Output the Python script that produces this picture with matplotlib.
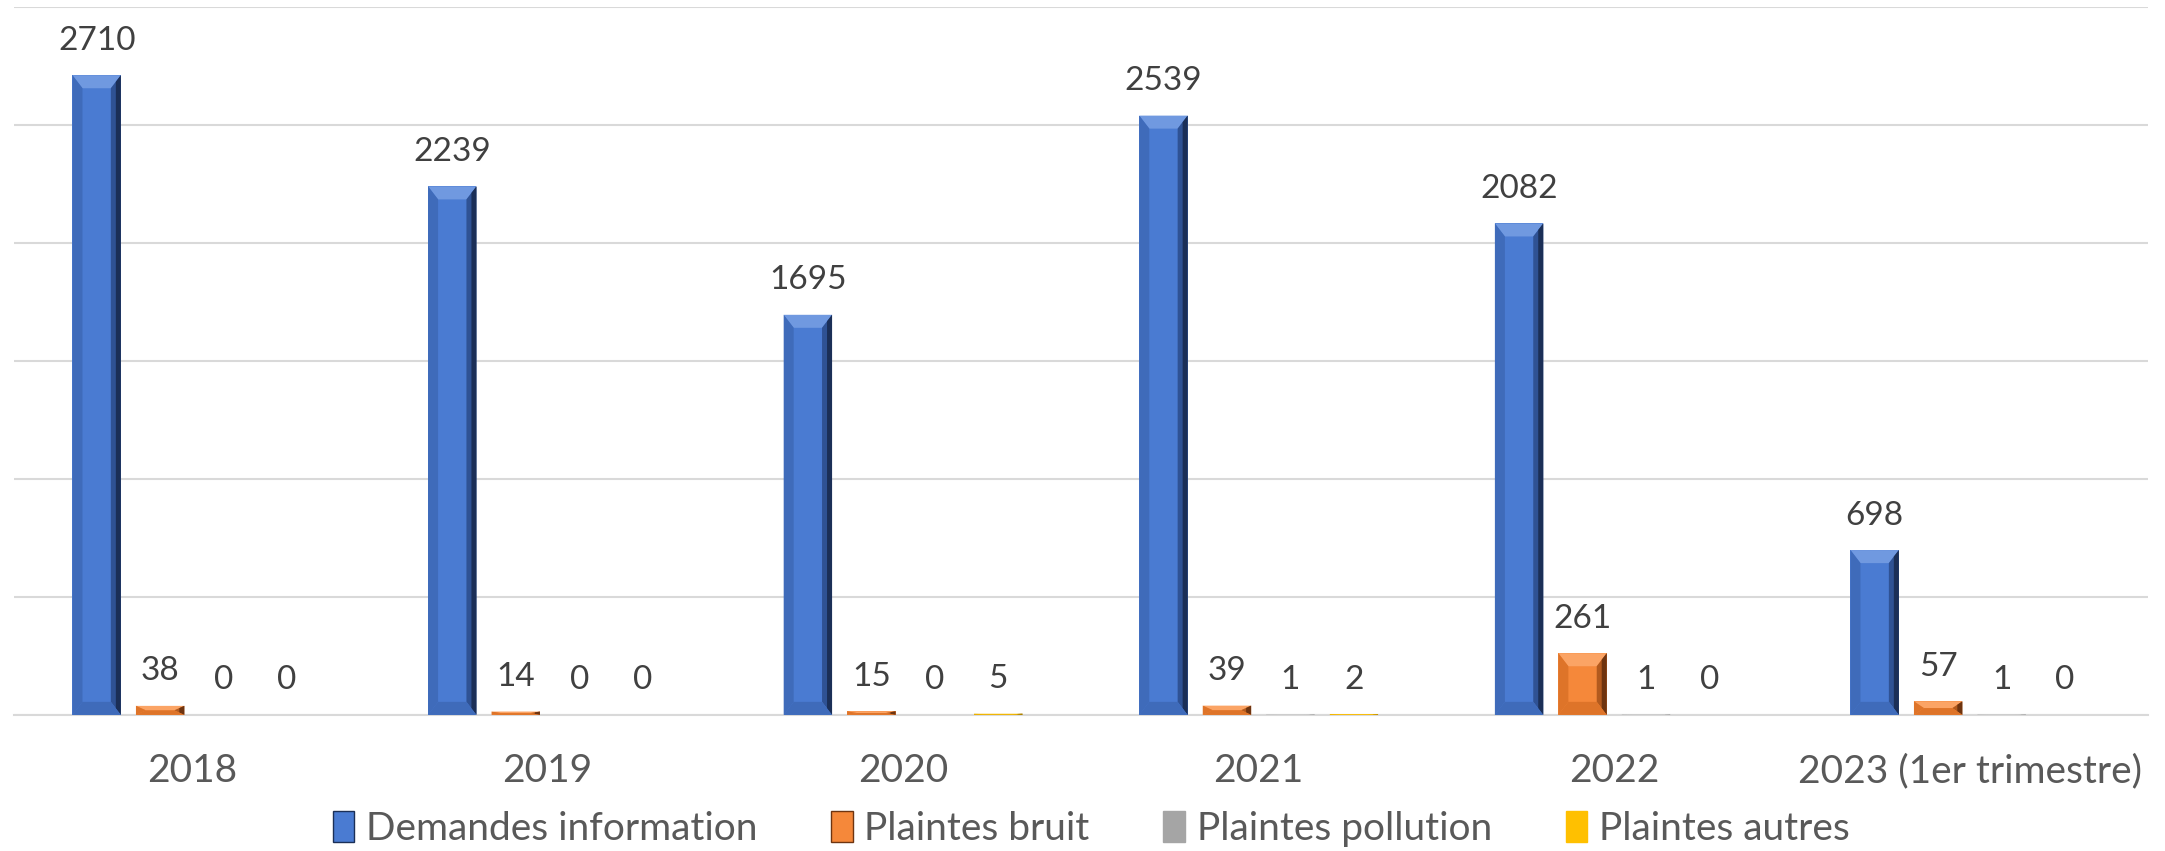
import numpy as np
import matplotlib.pyplot as plt
from matplotlib.patches import Polygon, Patch

plt.rcParams['font.family'] = ['Lato', 'DejaVu Sans']

years = ['2018', '2019', '2020', '2021', '2022', '2023 (1er trimestre)']
demandes = [2710, 2239, 1695, 2539, 2082, 698]
bruit = [38, 14, 15, 39, 261, 57]
pollution = [0, 0, 0, 1, 1, 1]
autres = [0, 0, 5, 2, 0, 0]

series = [demandes, bruit, pollution, autres]
names = ['Demandes information', 'Plaintes bruit', 'Plaintes pollution', 'Plaintes autres']
colors = ['#4A7BD2', '#F5883A', '#A5A5A5', '#FFC000']
light = ['#7099E0', '#FBA465', '#BDBDBD', '#FFD44D']
dark = ['#1B2F57', '#6E3410', '#6E6E6E', '#9C7500']
dark2 = ['#2F5294', '#B25A1E', '#8A8A8A', '#CC9900']
mid = ['#3F6BBA', '#DE7429', '#959595', '#E6AD00']

fig = plt.figure(figsize=(21.65, 8.51), dpi=100)
ax = fig.add_axes([0.0065, 0.16, 0.9855, 0.832])

x = np.arange(len(years))
step = 0.1785
width = 0.136
ymax = 3000
ax.set_xlim(-0.5, len(years) - 0.5)
ax.set_ylim(0, ymax)

# pixel -> data conversion for the bevel
ax_w_px = fig.get_figwidth() * fig.dpi * 0.9855
ax_h_px = fig.get_figheight() * fig.dpi * 0.832
px_x = len(years) / ax_w_px
px_y = ymax / ax_h_px

for i, vals in enumerate(series):
    pos = x + (i - 1.5) * step
    bars = ax.bar(pos, vals, width, color=colors[i], zorder=3)
    for b in bars:
        x0, y0 = b.get_x(), b.get_y()
        x1, y1 = x0 + b.get_width(), y0 + b.get_height()
        if b.get_height() <= 0:
            continue
        bx = 10 * px_x
        by = min(13 * px_y, b.get_height() / 2)
        xm = x1 - bx / 2
        polys = [
            ([(x0, y1), (x1, y1), (x1 - bx, y1 - by), (x0 + bx, y1 - by)], light[i]),
            ([(x1, y1), (x1, y0), (x1 - bx, y0 + by), (x1 - bx, y1 - by)], dark2[i]),
            ([(x1, y1), (x1, y0), (xm, y0 + by / 2), (xm, y1 - by / 2)], dark[i]),
            ([(x0, y1), (x0 + bx, y1 - by), (x0 + bx, y0 + by), (x0, y0)], mid[i]),
            ([(x0, y0), (x1, y0), (x1 - bx, y0 + by), (x0 + bx, y0 + by)], mid[i]),
        ]
        for pts, c in polys:
            ax.add_patch(Polygon(pts, closed=True, facecolor=c, edgecolor='none', zorder=4))
    for p, v in zip(pos, vals):
        ax.annotate(str(v), (p, v), xytext=(0, 14), textcoords='offset points',
                    ha='center', va='bottom', fontsize=24, color='#404040')

ax.set_yticks(np.arange(0, ymax + 1, 500))
ax.yaxis.grid(True, color='#D9D9D9', linewidth=1.5, zorder=0)
ax.tick_params(axis='y', left=False, labelleft=False)
ax.tick_params(axis='x', bottom=False, labelsize=28, labelcolor='#595959', pad=24)
ax.set_xticks(x)
ax.set_xticklabels(years)
for s in ['top', 'right', 'left']:
    ax.spines[s].set_visible(False)
ax.spines['bottom'].set_color('#D9D9D9')
ax.spines['bottom'].set_linewidth(1.5)

handles = [Patch(facecolor=colors[i], edgecolor=dark[i] if i < 2 else colors[i], label=names[i])
           for i in range(4)]
fig.legend(handles=handles, loc='center', bbox_to_anchor=(0.504, 0.026), ncol=4,
           frameon=False, fontsize=28, labelcolor='#595959', handlelength=0.55,
           handleheight=0.85, handletextpad=0.3, columnspacing=1.9)

fig.savefig('out.png', dpi=100)
